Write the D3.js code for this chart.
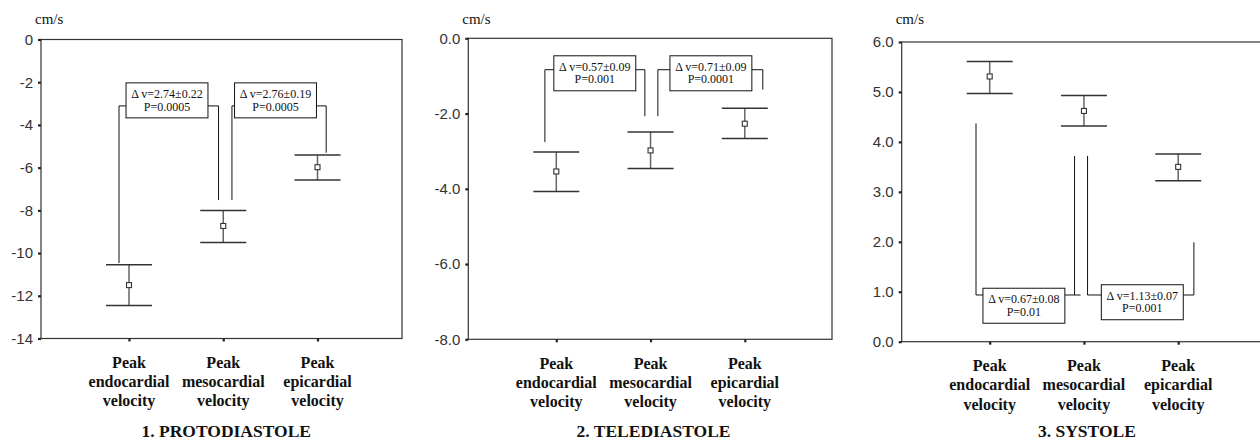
<!DOCTYPE html>
<html><head><meta charset="utf-8">
<script src="https://cdn.jsdelivr.net/npm/d3@7"></script>
<style>body{margin:0;background:#fff;} svg{display:block;}</style>
</head><body><svg id="c" width="1260" height="442"></svg>
<script>
// ---------- data ----------
const categories = [["Peak","endocardial","velocity"],["Peak","mesocardial","velocity"],["Peak","epicardial","velocity"]];
const panelTitles = ["1. PROTODIASTOLE","2. TELEDIASTOLE","3. SYSTOLE"];
const unitLabel = "cm/s";

const protoMean = [-11.5, -8.73, -5.98];
const protoLow  = [-12.45, -9.50, -6.58];
const protoHigh = [-10.55, -8.01, -5.41];

const teleMean = [-3.54, -2.98, -2.27];
const teleLow  = [-4.07, -3.46, -2.66];
const teleHigh = [-3.02, -2.49, -1.86];

const sysMean = [5.31, 4.62, 3.50];
const sysLow  = [4.97, 4.32, 3.22];
const sysHigh = [5.61, 4.93, 3.76];

const protoTicks = [0, -2, -4, -6, -8, -10, -12, -14];
const teleTicks  = [0.0, -2.0, -4.0, -6.0, -8.0];
const sysTicks   = [0.0, 1.0, 2.0, 3.0, 4.0, 5.0, 6.0];

const protoNotes = [["\u0394 v=2.74\u00b10.22","P=0.0005"],["\u0394 v=2.76\u00b10.19","P=0.0005"]];
const teleNotes  = [["\u0394 v=0.57\u00b10.09","P=0.001"],["\u0394 v=0.71\u00b10.09","P=0.0001"]];
const sysNotes   = [["\u0394 v=0.67\u00b10.08","P=0.01"],["\u0394 v=1.13\u00b10.07","P=0.001"]];

// ---------- layout ----------
const loc = d3.formatLocale({decimal:".", thousands:",", grouping:[3], currency:["",""], minus:"-"});
const panels = [
  {left:41, right:402, top:39.5, bottom:338.5, domain:[-14,0], ticks:protoTicks, fmt:loc.format("d"),
   mean:protoMean, low:protoLow, high:protoHigh, notes:protoNotes, title:panelTitles[0],
   br:[{c0:0,dx0:-10,e0:-10.47,c1:1,dx1:-4.7,e1:-7.52,bar:-3.11,boxCx:167,boxY:-2.85,ext:0},
       {c0:1,dx0:8.7,e0:-7.52,c1:2,dx1:8.7,e1:-5.30,bar:-3.11,boxCx:275.5,boxY:-2.85,ext:0}]},
  {left:468.3, right:832, top:38.3, bottom:339.3, domain:[-8,0], ticks:teleTicks, fmt:loc.format(".1f"),
   mean:teleMean, low:teleLow, high:teleHigh, notes:teleNotes, title:panelTitles[1],
   br:[{c0:0,dx0:-11.4,e0:-2.76,c1:1,dx1:-5.7,e1:-2.07,bar:-0.835,boxCx:594.8,boxY:-0.93,ext:0},
       {c0:1,dx0:7.3,e0:-2.07,c1:2,dx1:18,e1:-1.36,bar:-0.835,boxCx:710.9,boxY:-0.93,ext:0}]},
  {left:901.7, right:1267, top:42, bottom:341.7, domain:[0,6], ticks:sysTicks, fmt:loc.format(".1f"),
   mean:sysMean, low:sysLow, high:sysHigh, notes:sysNotes, title:panelTitles[2],
   br:[{c0:0,dx0:-13.7,e0:4.37,c1:1,dx1:-9.4,e1:3.72,bar:0.935,boxCx:1023.9,boxY:0.72,ext:6},
       {c0:1,dx0:3.6,e0:3.72,c1:2,dx1:15.7,e1:1.99,bar:0.935,boxCx:1142.3,boxY:0.79,ext:0}]}
];

const SANS = "'Liberation Sans', Arial, sans-serif";
const SERIF = "'Liberation Serif', 'Times New Roman', serif";
const svg = d3.select("#c");

panels.forEach(p => {
  const g = svg.append("g");
  const y = d3.scaleLinear().domain(p.domain).range([p.bottom, p.top]);
  const x = d3.scalePoint().domain([0,1,2]).range([p.left + 88, p.left + 276.5]);

  // frame
  g.append("rect").attr("x", p.left).attr("y", p.top)
    .attr("width", p.right - p.left).attr("height", p.bottom - p.top)
    .attr("fill", "none").attr("stroke", "#333").attr("stroke-width", 1.2);

  // y axis
  const ya = g.append("g").attr("transform", `translate(${p.left},0)`)
    .call(d3.axisLeft(y).tickValues(p.ticks).tickFormat(p.fmt).tickSize(3).tickPadding(5));
  ya.select(".domain").remove();
  ya.selectAll(".tick line").attr("stroke", "#222").attr("stroke-width", 2.2);
  ya.selectAll(".tick text").attr("font-family", SANS).attr("font-size", 15).attr("fill", "#333");

  // x axis ticks
  const xa = g.append("g").attr("transform", `translate(0,${p.bottom})`)
    .call(d3.axisBottom(x).tickSize(3).tickFormat(""));
  xa.select(".domain").remove();
  xa.selectAll(".tick line").attr("stroke", "#222").attr("stroke-width", 2.2);

  // category labels
  [0,1,2].forEach(i => {
    const t = g.append("text").attr("x", x(i)).attr("text-anchor", "middle")
      .attr("font-family", SERIF).attr("font-weight", "bold").attr("font-size", 16).attr("fill", "#111");
    categories[i].forEach((line, j) => {
      t.append("tspan").attr("x", x(i)).attr("y", p.bottom + 29.5 + j * 19.2).text(line);
    });
  });

  // unit label
  g.append("text").attr("x", p.left - 6).attr("y", 24).attr("font-family", SERIF)
    .attr("font-size", 15).attr("fill", "#111").text(unitLabel);

  // panel title
  g.append("text").attr("x", x(1) + 3).attr("y", 437).attr("text-anchor", "middle")
    .attr("font-family", SERIF).attr("font-weight", "bold").attr("font-size", 17.5).attr("fill", "#111")
    .text(p.title);

  // error bars
  [0,1,2].forEach(i => {
    const cx = x(i);
    g.append("line").attr("x1", cx).attr("x2", cx).attr("y1", y(p.low[i])).attr("y2", y(p.high[i]))
      .attr("stroke", "#666").attr("stroke-width", 1.5);
    [p.low[i], p.high[i]].forEach(v => {
      g.append("line").attr("x1", cx - 23).attr("x2", cx + 23).attr("y1", y(v)).attr("y2", y(v))
        .attr("stroke", "#333").attr("stroke-width", 1.5);
    });
    g.append("rect").attr("x", cx - 2.5).attr("y", y(p.mean[i]) - 2.5).attr("width", 5).attr("height", 5)
      .attr("fill", "#fff").attr("stroke", "#333").attr("stroke-width", 1.1);
  });

  // brackets with annotation boxes
  p.br.forEach((b, k) => {
    const lx = x(b.c0) + b.dx0, rx = x(b.c1) + b.dx1, by = y(b.bar);
    const bg = g.append("g");
    const rect = bg.append("rect");
    const txt = bg.append("text").attr("text-anchor", "middle").attr("font-family", SERIF)
      .attr("font-size", 12).attr("fill", "#111");
    const cyBox = y(b.boxY);
    p.notes[k].forEach((line, j) => {
      txt.append("tspan").attr("x", b.boxCx).attr("y", cyBox - 2.5 + j * 12.7).text(line);
    });
    let w = 0;
    txt.selectAll("tspan").each(function(){ w = Math.max(w, this.getComputedTextLength()); });
    const bw = w + 10.5, bh = 35;
    const bl = b.boxCx - bw / 2, brr = b.boxCx + bw / 2;
    rect.attr("x", bl).attr("y", cyBox - bh / 2).attr("width", bw).attr("height", bh)
      .attr("fill", "#fff").attr("stroke", "#111").attr("stroke-width", 1);
    const path = d3.path();
    path.moveTo(lx, y(b.e0)); path.lineTo(lx, by); path.lineTo(bl, by);
    path.moveTo(brr, by); path.lineTo(rx + b.ext, by);
    path.moveTo(rx, by); path.lineTo(rx, y(b.e1));
    bg.insert("path", "rect").attr("d", path.toString()).attr("fill", "none")
      .attr("stroke", "#111").attr("stroke-width", 1);
  });
});
</script></body></html>
